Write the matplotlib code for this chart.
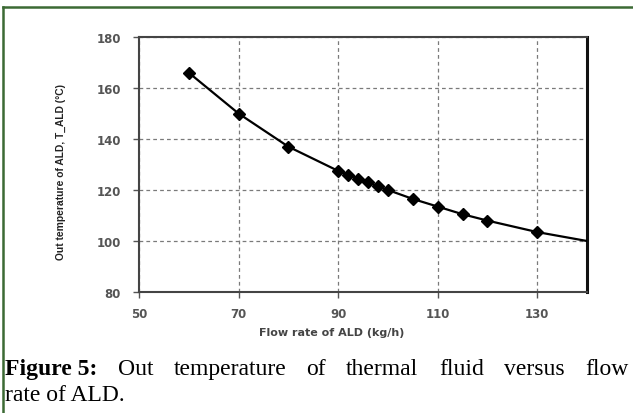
import matplotlib
matplotlib.use('Agg')
import matplotlib.pyplot as plt
from matplotlib.lines import Line2D

# data
flow = [60, 70, 80, 90, 92, 94, 96, 98, 100, 105, 110, 115, 120, 130]
temp = [166, 150, 137, 127.5, 126, 124.5, 123, 121.5, 120, 116.5, 113.5, 110.5, 108, 103.5]
# the curve runs on to the right edge without a marker
curve_x = flow + [140]
curve_y = temp + [100]

xticks = [50, 70, 90, 110, 130]
yticks = [80, 100, 120, 140, 160, 180]

caption_line1 = ['Out', 'temperature', 'of', 'thermal', 'fluid', 'versus', 'flow']
caption_line2 = 'rate of ALD.'

W, H = 633, 414
fig = plt.figure(figsize=(W / 100, H / 100), dpi=100)

ax = fig.add_axes([139 / W, 1 - 293 / H, (587 - 139) / W, (293 - 38) / H])
ax.plot(curve_x, curve_y, color='black', lw=1.6, zorder=3)
ax.plot(flow, temp, ls='none', marker='D', ms=6, color='black', zorder=4)

ax.set_xlim(50, 140)
ax.set_ylim(80, 180)
ax.set_xticks(xticks)
ax.set_yticks(yticks)
ax.grid(True, ls=(0, (3, 2.5)), color='#7a7a7a', lw=0.9)
ax.tick_params(axis='both', direction='out', length=4, width=1, color='#555555',
               labelsize=8.5, labelcolor='#555555')
ax.tick_params(axis='x', pad=7)
ax.tick_params(axis='y', pad=9)
for lab in ax.get_xticklabels() + ax.get_yticklabels():
    lab.set_fontweight('bold')
for side in ['left', 'top', 'bottom']:
    ax.spines[side].set_color('#444444')
    ax.spines[side].set_linewidth(1.5)
ax.spines['right'].set_color('#111111')
ax.spines['right'].set_linewidth(2.2)

fig.text(61 / W, 1 - 172 / H, 'Out temperature of ALD, T_ALD (°C)', rotation=90,
         ha='center', va='center', fontsize=7.4, fontweight='bold', color='#222222',
         family=['Liberation Sans Narrow', 'DejaVu Sans Condensed', 'Liberation Sans'])
fig.text(332 / W, 1 - 333 / H, 'Flow rate of ALD (kg/h)', ha='center', va='center',
         fontsize=8, fontweight='bold', color='#444444')

# green frame around figure and caption
green = '#3c6a34'
fig.add_artist(Line2D([3 / W, 3 / W], [0, 1 - 8 / H], color=green, lw=1.8,
                      transform=fig.transFigure))
fig.add_artist(Line2D([3 / W, 1], [1 - 8 / H, 1 - 8 / H], color=green, lw=1.8,
                      transform=fig.transFigure))

# justified caption, first line
cap_kw = dict(fontsize=17, family='Liberation Serif', color='black', va='baseline')
renderer = fig.canvas.get_renderer()
left, right, base1 = 5, 628, 375
parts = [('Figure 5:', 'bold')] + [(w, 'normal') for w in caption_line1]
texts = []
for word, weight in parts:
    t = fig.text(0, 1 - base1 / H, word, fontweight=weight, **cap_kw)
    texts.append(t)
widths = [t.get_window_extent(renderer).width for t in texts]
gap = (right - left - sum(widths)) / (len(texts) - 1)
x = left
for t, w in zip(texts, widths):
    t.set_x(x / W)
    x += w + gap
fig.text(left / W, 1 - 401 / H, caption_line2, **cap_kw)

fig.savefig('out.png', dpi=100)
